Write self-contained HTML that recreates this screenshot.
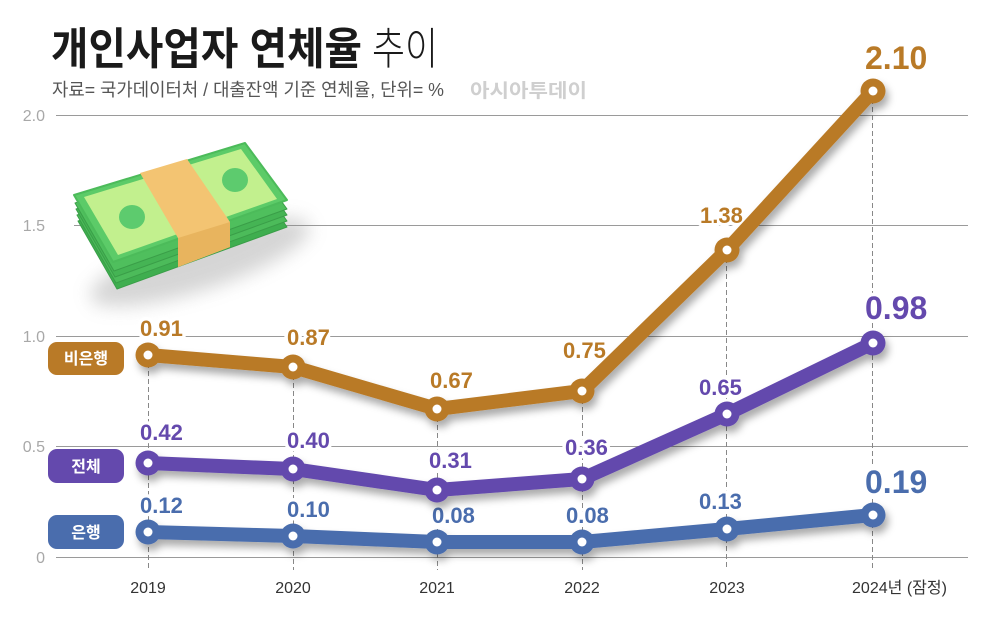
<!DOCTYPE html>
<html><head><meta charset="utf-8">
<style>
html,body{margin:0;padding:0;background:#fff;}
svg{display:block;}
</style></head>
<body>
<svg width="1000" height="618" viewBox="0 0 1000 618" xmlns="http://www.w3.org/2000/svg">
<defs>
<filter id="sh" x="-10%" y="-20%" width="130%" height="160%">
<feDropShadow dx="3" dy="6" stdDeviation="4" flood-color="#000" flood-opacity="0.33"/>
</filter>
<filter id="blur" x="-30%" y="-50%" width="160%" height="200%"><feGaussianBlur stdDeviation="9"/></filter>
</defs>
<rect width="1000" height="618" fill="#fff"/>

<!-- Title -->
<text x="51" y="64" font-family="'Liberation Sans','Noto Sans CJK KR',sans-serif" font-weight="bold" font-size="44" fill="#1a1a1a" textLength="311" lengthAdjust="spacingAndGlyphs">개인사업자 연체율</text>
<text x="372" y="64" font-family="'Liberation Sans','Noto Sans CJK KR',sans-serif" font-weight="300" font-size="44" fill="#1a1a1a" textLength="66" lengthAdjust="spacingAndGlyphs">추이</text>
<text x="52" y="96" font-family="'Liberation Sans','Noto Sans CJK KR',sans-serif" font-size="18" fill="#555" textLength="392" lengthAdjust="spacingAndGlyphs">자료= 국가데이터처 / 대출잔액 기준 연체율, 단위= %</text>
<text x="470" y="97" font-family="'Liberation Sans','Noto Sans CJK KR',sans-serif" font-weight="bold" font-size="19" fill="#cfcfcf" textLength="117" lengthAdjust="spacingAndGlyphs">아시아투데이</text>

<!-- Grid -->
<g stroke="#9a9a9a" stroke-width="1">
<line x1="56" y1="115.5" x2="968" y2="115.5"/>
<line x1="56" y1="225.5" x2="968" y2="225.5"/>
<line x1="56" y1="336.5" x2="968" y2="336.5"/>
<line x1="56" y1="446.5" x2="968" y2="446.5"/>
<line x1="56" y1="557.5" x2="968" y2="557.5"/>
</g>
<g font-family="'Liberation Sans',sans-serif" font-size="16" fill="#a8a8a8" text-anchor="end">
<text x="45" y="121">2.0</text>
<text x="45" y="231">1.5</text>
<text x="45" y="342">1.0</text>
<text x="45" y="452">0.5</text>
<text x="45" y="563">0</text>
</g>

<!-- Dashed verticals -->
<g stroke="#888" stroke-width="1" stroke-dasharray="5 3">
<line x1="148.5" y1="355" x2="148.5" y2="570"/>
<line x1="293.5" y1="367" x2="293.5" y2="570"/>
<line x1="437.5" y1="409" x2="437.5" y2="570"/>
<line x1="582.5" y1="391" x2="582.5" y2="570"/>
<line x1="726.5" y1="250" x2="726.5" y2="570"/>
<line x1="872.5" y1="91" x2="872.5" y2="570"/>
</g>

<!-- X labels -->
<g font-family="'Liberation Sans','Noto Sans CJK KR',sans-serif" font-size="16" fill="#333">
<text x="148" y="593" text-anchor="middle">2019</text>
<text x="293" y="593" text-anchor="middle">2020</text>
<text x="437" y="593" text-anchor="middle">2021</text>
<text x="582" y="593" text-anchor="middle">2022</text>
<text x="727" y="593" text-anchor="middle">2023</text>
<text x="852" y="593" textLength="95" lengthAdjust="spacingAndGlyphs">2024년 (잠정)</text>
</g>

<!-- Money illustration -->
<g>
<ellipse cx="200" cy="262" rx="115" ry="28" fill="#888" opacity="0.35" filter="url(#blur)" transform="rotate(-18 200 262)"/>
<rect x="56" y="220" width="18" height="12" fill="#fff"/>
<g stroke="#3a9e48" stroke-width="1" stroke-linejoin="round">
<polygon points="78,221 247,169 287,227 117,289" fill="#3fae4f"/>
<polygon points="77,215 246,163 287,221 116,283" fill="#4cbb5a"/>
<polygon points="76,209 246,157 287,215 115,277" fill="#45b454"/>
<polygon points="75,203 245,151 287,209 114,271" fill="#4fbf5d"/>
</g>
<polygon points="74,195 245,143 287,200 113,262" fill="#5ccb68" stroke="#4cbb5a" stroke-width="2" stroke-linejoin="round"/>
<polygon points="84,197 241,149 277,199 118,255" fill="#c2f08e"/>
<ellipse cx="132" cy="217" rx="13" ry="12" fill="#5dcb6e"/>
<ellipse cx="235" cy="180" rx="13" ry="12" fill="#5dcb6e"/>
<polygon points="140,173 187,159 230,222 230,247 178,267 178,238" fill="#f3c472"/>
<polygon points="178,238 230,222 230,247 178,267" fill="#e8b45e"/>
</g>

<!-- Labels -->
<g font-family="'Liberation Sans',sans-serif" font-weight="bold" stroke="#fff" stroke-width="7" stroke-linejoin="round" paint-order="stroke">
<g fill="#b97a27" font-size="22">
<text x="140" y="336">0.91</text>
<text x="287" y="345">0.87</text>
<text x="430" y="388">0.67</text>
<text x="563" y="358">0.75</text>
<text x="700" y="223">1.38</text>
</g>
<text x="865" y="69" fill="#b97a27" font-size="32">2.10</text>
<g fill="#6449ad" font-size="22">
<text x="140" y="440">0.42</text>
<text x="287" y="448">0.40</text>
<text x="429" y="468">0.31</text>
<text x="565" y="455">0.36</text>
<text x="699" y="395">0.65</text>
</g>
<text x="865" y="319" fill="#6449ad" font-size="32">0.98</text>
<g fill="#4a6dad" font-size="22">
<text x="140" y="513">0.12</text>
<text x="287" y="517">0.10</text>
<text x="432" y="523">0.08</text>
<text x="566" y="523">0.08</text>
<text x="699" y="509">0.13</text>
</g>
<text x="865" y="493" fill="#4a6dad" font-size="32">0.19</text>
</g>

<!-- Series -->
<g filter="url(#sh)">
<polyline points="148,355 293,367 437,409 582,391 727,250 873,91" fill="none" stroke="#b97a27" stroke-width="14" stroke-linejoin="round" stroke-linecap="round"/>
<g fill="#b97a27"><circle cx="148" cy="355" r="12.5"/><circle cx="293" cy="367" r="12.5"/><circle cx="437" cy="409" r="12.5"/><circle cx="582" cy="391" r="12.5"/><circle cx="727" cy="250" r="12.5"/><circle cx="873" cy="91" r="12.5"/></g>
</g>
<g filter="url(#sh)">
<polyline points="148,463 293,469 437,490 582,479 727,414 873,343" fill="none" stroke="#6449ad" stroke-width="14" stroke-linejoin="round" stroke-linecap="round"/>
<g fill="#6449ad"><circle cx="148" cy="463" r="12.5"/><circle cx="293" cy="469" r="12.5"/><circle cx="437" cy="490" r="12.5"/><circle cx="582" cy="479" r="12.5"/><circle cx="727" cy="414" r="12.5"/><circle cx="873" cy="343" r="12.5"/></g>
</g>
<g filter="url(#sh)">
<polyline points="148,532 293,536 437,542 582,542 727,529 873,515" fill="none" stroke="#4a6dad" stroke-width="14" stroke-linejoin="round" stroke-linecap="round"/>
<g fill="#4a6dad"><circle cx="148" cy="532" r="12.5"/><circle cx="293" cy="536" r="12.5"/><circle cx="437" cy="542" r="12.5"/><circle cx="582" cy="542" r="12.5"/><circle cx="727" cy="529" r="12.5"/><circle cx="873" cy="515" r="12.5"/></g>
</g>
<g fill="#fff">
<circle cx="148" cy="355" r="4.5"/><circle cx="293" cy="367" r="4.5"/><circle cx="437" cy="409" r="4.5"/><circle cx="582" cy="391" r="4.5"/><circle cx="727" cy="250" r="4.5"/><circle cx="873" cy="91" r="4.5"/>
<circle cx="148" cy="463" r="4.5"/><circle cx="293" cy="469" r="4.5"/><circle cx="437" cy="490" r="4.5"/><circle cx="582" cy="479" r="4.5"/><circle cx="727" cy="414" r="4.5"/><circle cx="873" cy="343" r="4.5"/>
<circle cx="148" cy="532" r="4.5"/><circle cx="293" cy="536" r="4.5"/><circle cx="437" cy="542" r="4.5"/><circle cx="582" cy="542" r="4.5"/><circle cx="727" cy="529" r="4.5"/><circle cx="873" cy="515" r="4.5"/>
</g>

<!-- Legend pills -->
<rect x="48" y="342" width="76" height="33" rx="9" fill="#b97a27"/>
<rect x="48" y="449" width="76" height="34" rx="9" fill="#6449ad"/>
<rect x="48" y="515" width="76" height="34" rx="9" fill="#4a6dad"/>
<g font-family="'Liberation Sans','Noto Sans CJK KR',sans-serif" font-weight="bold" font-size="16" fill="#fff" text-anchor="middle">
<text x="86" y="364">비은행</text>
<text x="86" y="472">전체</text>
<text x="86" y="538">은행</text>
</g>
</svg>
</body></html>
